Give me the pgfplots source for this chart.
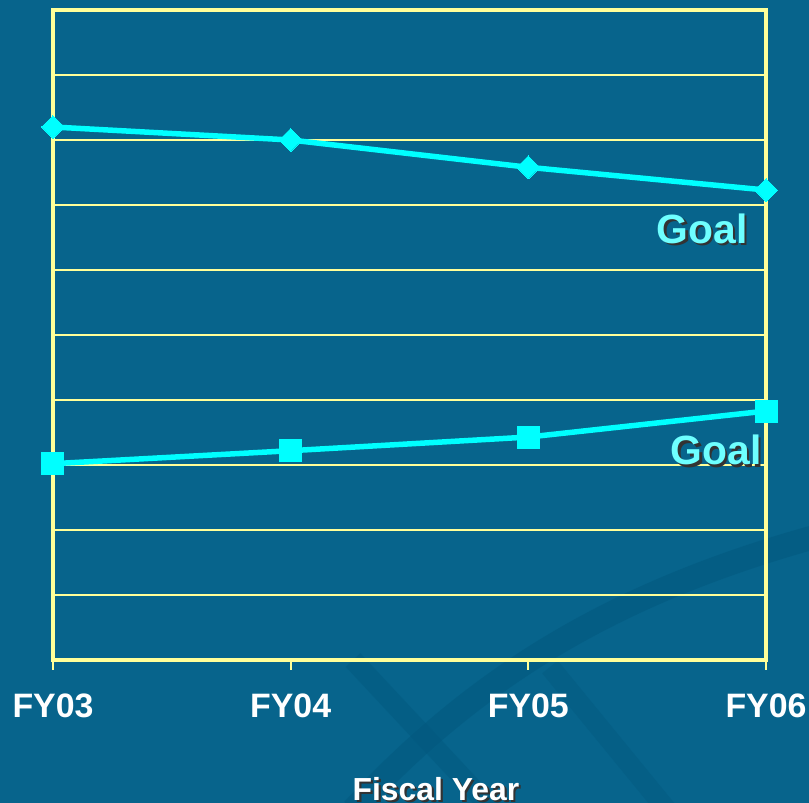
\documentclass[border=0pt]{standalone}
\usepackage{pgfplots}
\pgfplotsset{compat=1.18}
\usepackage{fontspec}
\setmainfont{Liberation Sans}

\definecolor{bg}{RGB}{7,100,140}
\definecolor{swoosh}{RGB}{2,88,126}
\definecolor{gridyel}{RGB}{255,255,153}
\definecolor{linecyan}{RGB}{0,255,255}
\definecolor{labcyan}{RGB}{110,255,255}

% text with a dark drop shadow
\newcommand{\shadowtext}[3]{%
  \node[#1, text=black!80, xshift=2.2bp, yshift=-2.2bp] {#3};
  \node[#1, text=#2] {#3};}

\begin{document}
\begin{tikzpicture}
\useasboundingbox (-53bp,-143bp) rectangle (756bp,660bp);
\fill[bg] (-53bp,-143bp) rectangle (756bp,660bp);
% faint background swooshes
\draw[swoosh, line width=24bp, opacity=0.55]
  (300bp,-150bp) .. controls (420bp,-20bp) and (560bp,70bp) .. (780bp,128bp);
\draw[swoosh, line width=20bp, opacity=0.45]
  (300bp,0bp) -- (440bp,-150bp);
\draw[swoosh, line width=20bp, opacity=0.4]
  (497bp,-7bp) -- (614bp,-150bp);

\begin{axis}[
  scale only axis,
  width=713bp, height=650bp,
  xmin=0, xmax=3, ymin=0, ymax=10,
  clip=false,
  axis line style={gridyel, line width=3.5bp},
  xtick={0,1,2,3},
  xticklabels={FY03,FY04,FY05,FY06},
  xtick pos=bottom,
  tick align=outside,
  major tick length=10bp,
  xtick style={gridyel, line width=2bp},
  xticklabel style={text=white, anchor=base, yshift=-47bp,
    font=\bfseries\fontsize{34}{40}\selectfont},
  ytick={1,2,3,4,5,6,7,8,9},
  yticklabels={},
  ytick style={draw=none},
  ymajorgrids,
  grid style={gridyel, line width=1.6bp},
]
\addplot[linecyan, line width=5.5bp, mark=square*, mark size=8.1bp,
  mark options={rotate=45, fill=linecyan, draw=linecyan, line width=0pt}]
  coordinates {(0,8.20) (1,8.00) (2,7.58) (3,7.23)};
\addplot[linecyan, line width=5.5bp, mark=square*, mark size=11bp,
  mark options={fill=linecyan, draw=linecyan, line width=0pt}]
  coordinates {(0,3.02) (1,3.22) (2,3.43) (3,3.83)};

\shadowtext{at={(axis cs:2.924,6.415)}, anchor=base east, inner sep=0pt,
  font=\bfseries\fontsize{41}{48}\selectfont}{labcyan}{Goal}
\shadowtext{at={(axis cs:2.983,3.0)}, anchor=base east, inner sep=0pt,
  font=\bfseries\fontsize{41}{48}\selectfont}{labcyan}{Goal}
\shadowtext{at={(axis cs:1.611,0)}, yshift=-140bp, anchor=base, inner sep=0pt,
  font=\bfseries\fontsize{32}{38}\selectfont}{white}{Fiscal Year}
\end{axis}
\end{tikzpicture}
\end{document}
